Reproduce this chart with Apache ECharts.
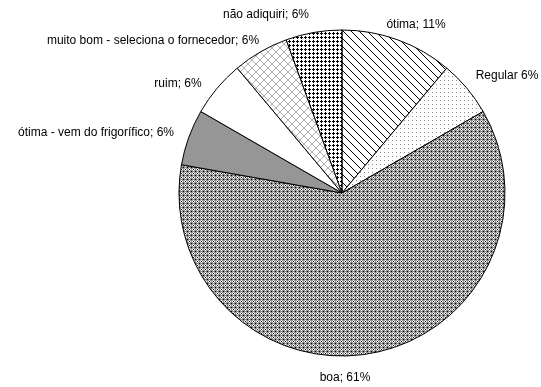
<!DOCTYPE html>
<html>
<head>
<meta charset="utf-8">
<script src="https://cdn.jsdelivr.net/npm/echarts@6/dist/echarts.min.js"></script>
<style>
  html, body { margin: 0; padding: 0; background: #fff; }
  #chart { width: 541px; height: 387px; }
</style>
</head>
<body>
<div id="chart"></div>
<script>
// Survey answers and number of responses
const categories = [
  'ótima',
  'Regular',
  'boa',
  'ótima - vem do frigorífico',
  'ruim',
  'muito bom - seleciona o fornecedor',
  'não adiquiri'
];
const responses = [2, 1, 11, 1, 1, 1, 1];
const separators = ['; ', ' ', '; ', '; ', '; ', '; ', '; '];

const total = responses.reduce((a, b) => a + b, 0);

// Build a small repeating tile from a pixel map
function tile(rows, palette) {
  const h = rows.length, w = rows[0].length;
  const c = document.createElement('canvas');
  c.width = w; c.height = h;
  const ctx = c.getContext('2d');
  for (let y = 0; y < h; y++) {
    for (let x = 0; x < w; x++) {
      ctx.fillStyle = palette[rows[y][x]];
      ctx.fillRect(x, y, 1, 1);
    }
  }
  return { image: c, repeat: 'repeat' };
}

const pal = { w: '#ffffff', k: '#000000', g: '#8e8e8e', l: '#b0b0b0', d: '#8c8c8c' };

const fills = [
  // diagonal hatch
  tile([
    'kwwwwwww',
    'wkwwwwww',
    'wwkwwwww',
    'wwwkwwww',
    'wwwwkwww',
    'wwwwwkww',
    'wwwwwwkw',
    'wwwwwwwk'
  ], pal),
  // fine dots
  tile([
    'dwww',
    'wwww',
    'wwww',
    'wwww'
  ], pal),
  // grey checker
  tile([
    'gwgg',
    'wkwg',
    'gwgg',
    'gggk'
  ], pal),
  // solid grey
  '#969696',
  // plain
  '#ffffff',
  // diagonal lattice
  tile([
    'lwwwwwwl',
    'wlwwwwlw',
    'wwlwwlww',
    'wwwllwww',
    'wwwllwww',
    'wwlwwlww',
    'wlwwwwlw',
    'lwwwwwwl'
  ], pal),
  // dense crosses
  tile([
    'wkww',
    'kkkw',
    'wkww',
    'wwww'
  ], pal)
];

// Label centres around the pie, one per slice
const labelSpots = [
  [416, 25], [507, 76], [345, 378], [96, 133], [178, 84], [153, 41], [266, 15]
];

const data = categories.map((name, i) => ({
  name: name,
  value: responses[i],
  sep: separators[i],
  itemStyle: { color: fills[i] }
}));

const chart = echarts.init(document.getElementById('chart'), null, { renderer: 'canvas' });
chart.setOption({
  animation: false,
  series: [{
    type: 'pie',
    center: [342, 193],
    radius: 163,
    startAngle: 90,
    clockwise: true,
    avoidLabelOverlap: false,
    data: data,
    itemStyle: { borderColor: '#000', borderWidth: 1 },
    label: {
      show: true,
      position: 'outside',
      color: '#000',
      fontFamily: 'Liberation Sans, Arial, sans-serif',
      fontSize: 12,
      formatter: p => p.name + p.data.sep + Math.round(p.value / total * 100) + '%'
    },
    labelLine: { show: false, length: 12, length2: 0 },
    labelLayout: p => ({
      x: labelSpots[p.dataIndex][0],
      y: labelSpots[p.dataIndex][1],
      align: 'center',
      verticalAlign: 'middle'
    }),
    emphasis: { disabled: true }
  }]
});
</script>
</body>
</html>
